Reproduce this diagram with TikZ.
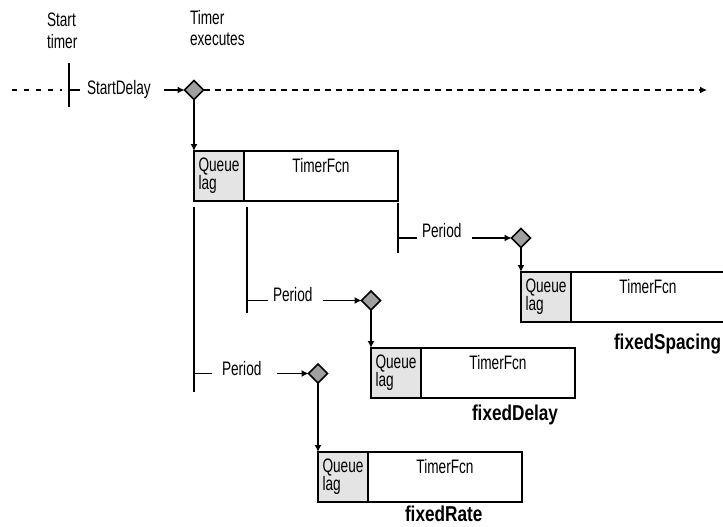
\documentclass[tikz,border=0pt]{standalone}
\usepackage{fontspec}
\setmainfont[FakeStretch=0.7,BoldFeatures={FakeStretch=0.8}]{Liberation Sans}
\usetikzlibrary{arrows.meta,positioning,shapes.geometric}
\definecolor{laggray}{RGB}{228,228,228}
\definecolor{eventgray}{RGB}{160,160,160}

\begin{document}
\begin{tikzpicture}
              [x=1pt,y=-1pt,line width=1.2pt,
                every node/.style={inner sep=0pt,outer sep=0pt,font=\fontsize{19.5}{18}\selectfont},
                event/.style={diamond,draw,line width=1.5pt,fill=eventgray,minimum width=19pt,minimum height=19pt},
                fcn/.style={rectangle,draw,anchor=north west,minimum height=50pt},
                lag/.style={rectangle,draw,anchor=north west,fill=laggray,align=left,minimum width=50pt,minimum height=50pt},
                word/.style={anchor=base west},
                head/.style={anchor=north west,align=left,font=\fontsize{19.5}{21.5}\selectfont},
                mode/.style={anchor=base west,font=\bfseries\fontsize{21.5}{24}\selectfont},
                arr/.style={-{Latex[length=7pt,width=7pt]}},
                future/.style={dash pattern=on 6pt off 5pt,line width=1.6pt}]
              \useasboundingbox (0,0) rectangle (723,527);
              \node[head] (start) at (47,13) {Start\\timer};
              \node[head] (exec) at (190,10) {Timer\\executes};
              \node[word] (startdelay) at (87,95) {StartDelay};
              \node[event] (d0) at (194,90) {};
              \node[event] (d1) at (521,238) {};
              \node[event] (d2) at (371,300.5) {};
              \node[event] (d3) at (318,373.5) {};
              \foreach \n/\x/\y/\w in {b0/194/151/204,b1/521/272/260,b2/371/348/204,b3/318/452/204}{
                \node[fcn,minimum width={\w pt}] (\n) at (\x,\y) {};
                \node[lag] (\n lag) at (\x,\y) {Queue\\lag};
                \node[anchor=base] (\n txt) at (\x+127,\y+21.5) {TimerFcn};
              }
              \node[mode] (spacing) at (614,349) {fixedSpacing};
              \node[mode] (fdelay) at (472,420) {fixedDelay};
              \node[mode] (frate) at (405,521) {fixedRate};
              \node[word] (p1) at (422,237) {Period};
              \node[word] (p2) at (273,301.5) {Period};
              \node[word] (p3) at (222,375.5) {Period};
              \coordinate (end) at (707,90);
              % start of the timer
              \draw[dash pattern=on 5pt off 7pt,line width=2pt] (12,90) -- (62,90);
              \draw (69,63) -- (69,107);
              \draw (69,90) -- (80,90);
              \draw[arr] (164,90) -- (d0);
              \draw[arr,future] (d0) -- (end);
              % guide lines below the first call
              \draw (194,207) -- (194,392);
              \draw (247,207) -- (247,313);
              \draw (398,203) -- (398,253);
              \foreach \g/\a/\b/\d in {398/417/472/d1,247/268/323/d2,194/212/277/d3}
              {
                \draw (\g,0 |- \d) -- (\a,0 |- \d);
                \draw[arr] (\b,0 |- \d) -- (\d);
              }
              \foreach \from/\to in {d0/b0,d1/b1,d2/b2,d3/b3}
              \draw[arr] (\from) -- (\to.north west);
            \end{tikzpicture}
\end{document}
